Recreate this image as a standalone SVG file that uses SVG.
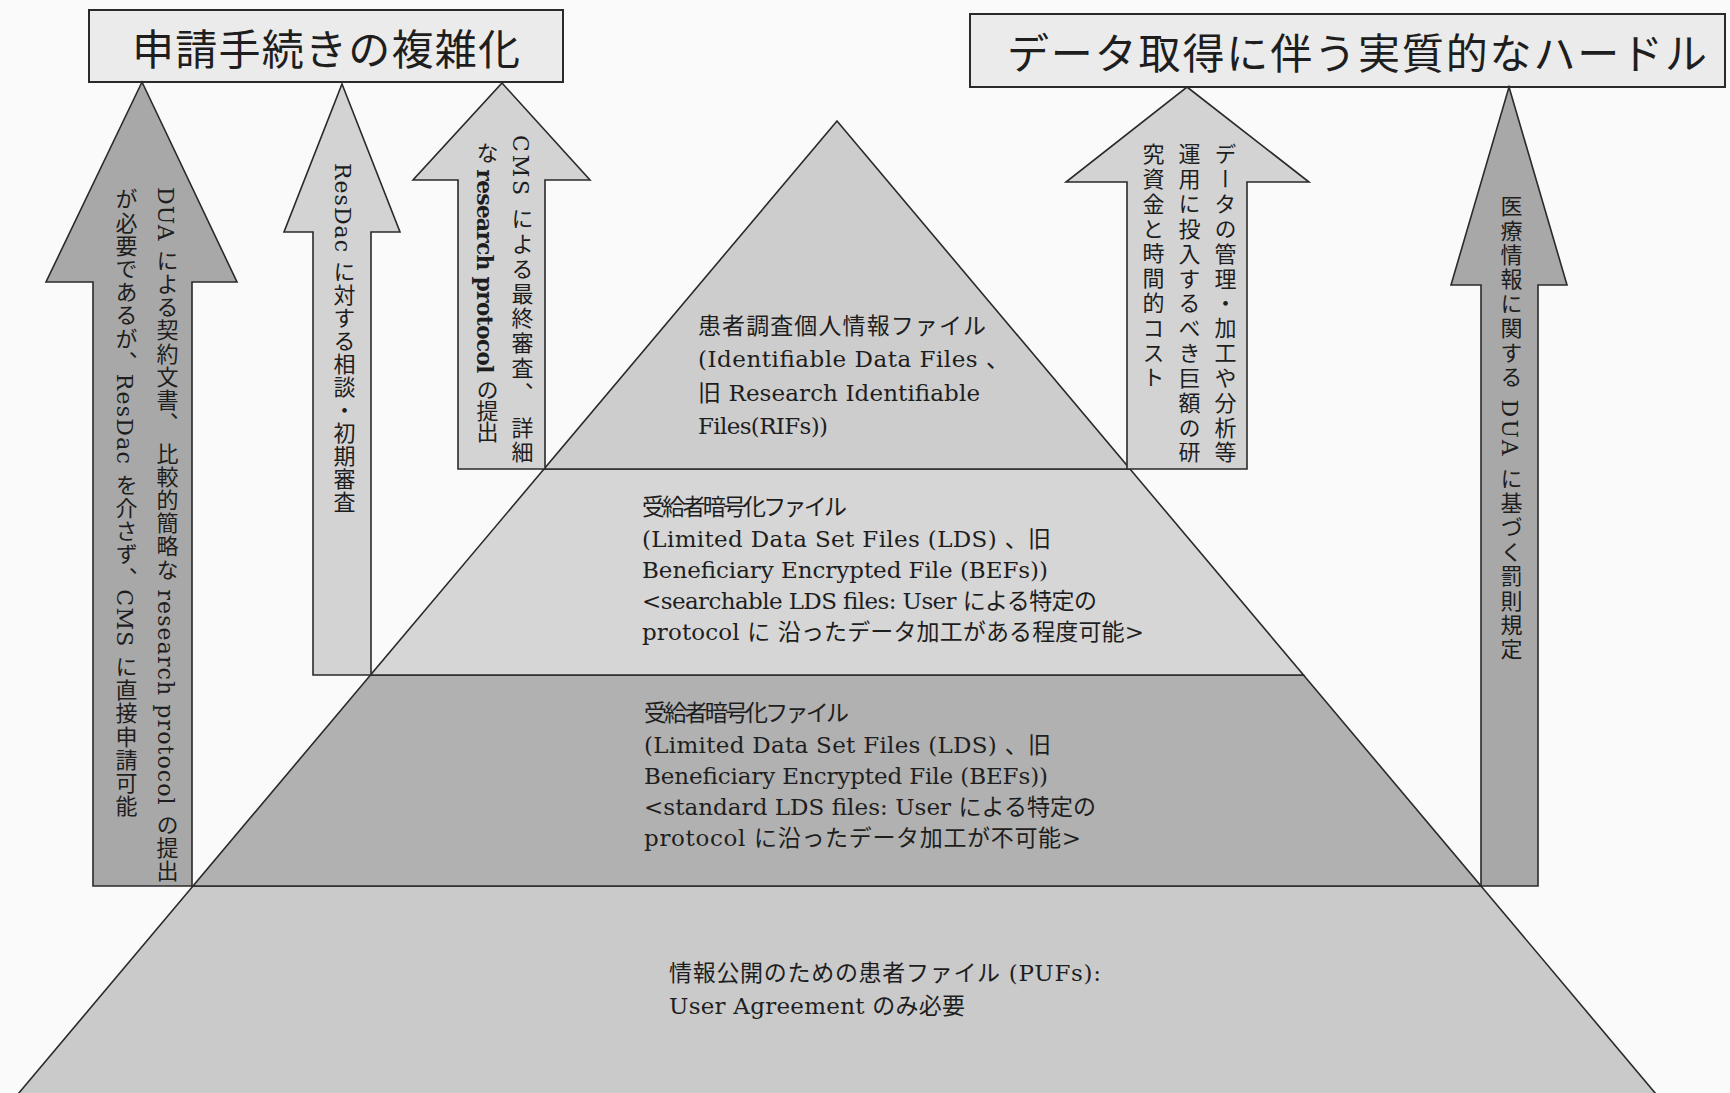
<svg xmlns="http://www.w3.org/2000/svg" width="1730" height="1093" viewBox="0 0 1730 1093">
<style>
.bg{fill:#fafafa}
.title{fill:#ebebeb;stroke:#2a2a2a;stroke-width:2}
.tt{font-family:'Noto Sans CJK JP',sans-serif;font-size:42px;fill:#1e1e1e}
.tier{stroke:#2a2a2a;stroke-width:1.6;stroke-linejoin:miter}
.t1{fill:#cdcdcd}.t2{fill:#d6d6d6}.t3{fill:#b1b1b1}.t4{fill:#cacaca}
.arr{stroke:#2a2a2a;stroke-width:1.6;stroke-linejoin:miter}
.dark{fill:#a8a8a8}.light{fill:#d3d3d3}
.pt{font-family:'DejaVu Serif','Noto Sans CJK JP',serif;font-size:23px;fill:#1e1e1e}
.vt{font-family:'DejaVu Serif','Noto Sans CJK JP',serif;font-size:22px;fill:#1e1e1e;writing-mode:vertical-rl}
.b{font-weight:bold}
</style>
<rect class="bg" x="0" y="0" width="1730" height="1093"/>

<g id="tier-4">
<polygon class="tier t4" points="193,886 1481,886 1661,1100 13,1100"/>
<text class="pt" x="669" y="981" textLength="432" lengthAdjust="spacing">情報公開のための患者ファイル (PUFs):</text>
<text class="pt" x="669" y="1014" textLength="296" lengthAdjust="spacing">User Agreement のみ必要</text>
</g>
<g id="tier-3">
<polygon class="tier t3" points="370.5,675 1303.5,675 1481,886 193,886"/>
<text class="pt" x="644" y="721" textLength="205" lengthAdjust="spacing">受給者暗号化ファイル</text>
<text class="pt" x="644" y="753" textLength="407" lengthAdjust="spacing">(Limited Data Set Files (LDS) 、旧</text>
<text class="pt" x="644" y="784" textLength="404" lengthAdjust="spacing">Beneficiary Encrypted File (BEFs))</text>
<text class="pt" x="644" y="815" textLength="452" lengthAdjust="spacing">&lt;standard LDS files: User による特定の</text>
<text class="pt" x="644" y="846" textLength="437" lengthAdjust="spacing">protocol  に沿ったデータ加工が不可能&gt;</text>
</g>
<g id="tier-2">
<polygon class="tier t2" points="544,469 1130,469 1303.5,675 370.5,675"/>
<text class="pt" x="642" y="515" textLength="205" lengthAdjust="spacing">受給者暗号化ファイル</text>
<text class="pt" x="642" y="547" textLength="409" lengthAdjust="spacing">(Limited Data Set Files (LDS) 、旧</text>
<text class="pt" x="642" y="578" textLength="406" lengthAdjust="spacing">Beneficiary Encrypted File (BEFs))</text>
<text class="pt" x="642" y="609" textLength="455" lengthAdjust="spacing">&lt;searchable LDS files: User による特定の</text>
<text class="pt" x="642" y="640" textLength="502" lengthAdjust="spacing">protocol に 沿ったデータ加工がある程度可能&gt;</text>
</g>
<g id="tier-1">
<polygon class="tier t1" points="837,121 1130,469 544,469"/>
<text class="pt" x="698" y="334" textLength="288" lengthAdjust="spacing">患者調査個人情報ファイル</text>
<text class="pt" x="698" y="367" textLength="311" lengthAdjust="spacing">(Identifiable Data Files 、</text>
<text class="pt" x="698" y="401" textLength="282" lengthAdjust="spacing">旧 Research Identifiable</text>
<text class="pt" x="698" y="434" textLength="130" lengthAdjust="spacing">Files(RIFs))</text>
</g>

<g id="title-left">
<rect class="title" x="89" y="10" width="474" height="72"/>
<text class="tt" x="132" y="65" textLength="388" lengthAdjust="spacing">申請手続きの複雑化</text>
</g>
<g id="title-right">
<rect class="title" x="970" y="14" width="755" height="73"/>
<text class="tt" x="1007" y="69" textLength="700" lengthAdjust="spacing">データ取得に伴う実質的なハードル</text>
</g>

<g id="connectors">
<g id="arrow-1">
<polygon class="arr dark" points="142,82 237,282 192,282 192,886 93,886 93,282 46,282"/>
<text class="vt" x="165" y="187" textLength="695" lengthAdjust="spacing">DUA による契約文書、 比較的簡略な research protocol の提出</text>
<text class="vt" x="124" y="188" textLength="629" lengthAdjust="spacing">が必要であるが、ResDac を介さず、CMS に直接申請可能</text>
</g>
<g id="arrow-2">
<polygon class="arr light" points="342,84 400,232 371,232 371,675 313,675 313,232 284,232"/>
<text class="vt" x="342" y="163" textLength="350" lengthAdjust="spacing">ResDac に対する相談・初期審査</text>
</g>
<g id="arrow-3">
<polygon class="arr light" points="502,83 590,180 545,180 545,469 458,469 458,180 413,180"/>
<text class="vt" x="520" y="135" textLength="328" lengthAdjust="spacing">CMS による最終審査、 詳細</text>
<text class="vt" x="485" y="142" lengthAdjust="spacing" textLength="301">な <tspan class="b">research protocol</tspan> の提出</text>
</g>
<g id="arrow-4">
<polygon class="arr light" points="1187,87 1309,182 1247,182 1247,469 1127,469 1127,182 1066,182"/>
<text class="vt" x="1223" y="143" textLength="320" lengthAdjust="spacing">データの管理・加工や分析等</text>
<text class="vt" x="1187" y="143" textLength="320" lengthAdjust="spacing">運用に投入するべき巨額の研</text>
<text class="vt" x="1151" y="143" textLength="245" lengthAdjust="spacing">究資金と時間的コスト</text>
</g>
<g id="arrow-5">
<polygon class="arr dark" points="1509,87 1567,285 1538,285 1538,886 1481,886 1481,285 1451,285"/>
<text class="vt" x="1509" y="195" textLength="465" lengthAdjust="spacing">医療情報に関する DUA に基づく罰則規定</text>
</g>
</g>
</svg>
